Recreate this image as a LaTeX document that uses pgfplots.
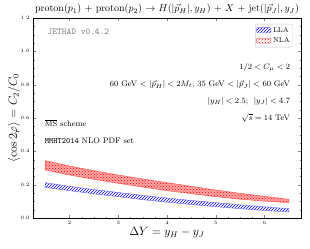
\documentclass[border=0pt]{standalone}
\usepackage{pgfplots}
\pgfplotsset{compat=1.18}
\usetikzlibrary{patterns}
\begin{document}
\begin{tikzpicture}
\begin{axis}[
  scale only axis, width=268pt, height=200pt,
  xmin=1.25, xmax=6.75, ymin=0, ymax=1.2,
  xtick={2,3,4,5,6}, ytick={0,0.2,0.4,0.6,0.8,1.0,1.2},
  yticklabels={0.0,0.2,0.4,0.6,0.8,1.0,1.2},
  minor x tick num=3, minor y tick num=3,
  tick align=inside, ticks=both, xtick pos=both, ytick pos=both,
  major tick length=3pt, minor tick length=1.5pt,
  tick label style={font=\tiny},
  title={proton$(p_1)$ + proton$(p_2)$ $\to$ $H(|\vec p_H|, y_H)$ + $X$ + jet$(|\vec p_J|, y_J)$},
  title style={font=\normalsize, yshift=-6pt},
  xlabel={$\Delta Y = y_H - y_J$}, xlabel style={font=\large, yshift=4pt},
  ylabel={$\langle \cos 2\varphi\rangle = C_2/C_0$}, ylabel style={font=\large, yshift=-6pt},
  legend pos=north east,
  legend style={font=\scriptsize, draw=black!20, rounded corners=1pt, inner sep=1pt},
  legend cell align=left,
  legend image code/.code={\draw[#1] (0cm,-0.08cm) rectangle (0.5cm,0.1cm);},
]
\addplot[draw=blue!60, pattern=north east lines, pattern color=blue] coordinates {
(1.5,0.212)(2,0.190)(2.5,0.171)(3,0.153)(3.5,0.136)(4,0.120)(4.5,0.105)(5,0.092)(5.5,0.079)(6,0.067)(6.5,0.056)
(6.5,0.036)(6,0.045)(5.5,0.056)(5,0.068)(4.5,0.081)(4,0.095)(3.5,0.110)(3,0.128)(2.5,0.145)(2,0.164)(1.5,0.184)
} -- cycle;
\addlegendentry{LLA}
\addplot[forget plot, draw=none, fill=red!35] coordinates {
(1.5,0.344)(2,0.312)(2.5,0.284)(3,0.258)(3.5,0.234)(4,0.212)(4.5,0.190)(5,0.168)(5.5,0.148)(6,0.130)(6.5,0.112)
(6.5,0.092)(6,0.101)(5.5,0.113)(5,0.128)(4.5,0.146)(4,0.164)(3.5,0.186)(3,0.208)(2.5,0.232)(2,0.258)(1.5,0.288)
} -- cycle;
\addplot[draw=red!70, pattern=crosshatch dots, pattern color=red] coordinates {
(1.5,0.344)(2,0.312)(2.5,0.284)(3,0.258)(3.5,0.234)(4,0.212)(4.5,0.190)(5,0.168)(5.5,0.148)(6,0.130)(6.5,0.112)
(6.5,0.092)(6,0.101)(5.5,0.113)(5,0.128)(4.5,0.146)(4,0.164)(3.5,0.186)(3,0.208)(2.5,0.232)(2,0.258)(1.5,0.288)
} -- cycle;
\addlegendentry{NLA}
\node[anchor=west, font=\small\ttfamily, text=black!50] at (axis cs:1.48,1.12) {JETHAD v0.4.2};
\node[anchor=east, font=\footnotesize, inner sep=1pt] at (axis cs:6.55,0.90) {$1/2 < C_\mu < 2$};
\node[anchor=east, font=\footnotesize, inner sep=1pt] at (axis cs:6.55,0.80) {60 GeV $< |\vec p_H| < 2M_t$; 35 GeV $< |\vec p_J| <$ 60 GeV};
\node[anchor=east, font=\footnotesize, inner sep=1pt] at (axis cs:6.55,0.70) {$|y_H| < 2.5$; \ $|y_J| < 4.7$};
\node[anchor=east, font=\footnotesize, inner sep=1pt] at (axis cs:6.55,0.60) {$\sqrt{s} = 14$ TeV};
\node[anchor=west, font=\footnotesize, inner sep=1pt] at (axis cs:1.47,0.57) {$\overline{\mbox{MS}}$ scheme};
\node[anchor=west, font=\footnotesize, inner sep=1pt] at (axis cs:1.47,0.465) {\texttt{MMHT2014} NLO PDF set};
\end{axis}
\pgfresetboundingbox
\path[use as bounding box] ([xshift=-33pt,yshift=-30pt]current axis.south west) rectangle ([xshift=9pt,yshift=18pt]current axis.north east);
\end{tikzpicture}
\end{document}
